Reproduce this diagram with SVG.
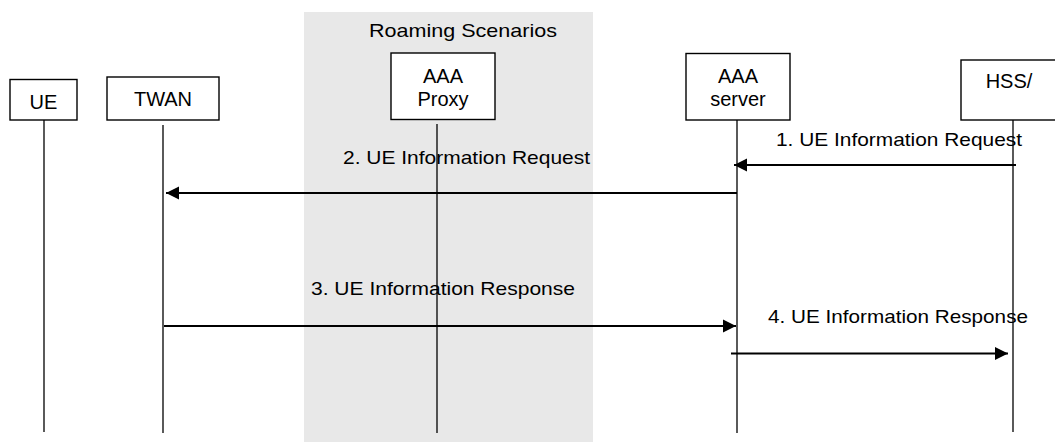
<svg xmlns="http://www.w3.org/2000/svg" width="1055" height="442" viewBox="0 0 1055 442">
<style>
.box{fill:#fff;stroke:#000;stroke-width:1.4}
.life{stroke:#000;stroke-width:1.3;fill:none}
.msg{stroke:#000;stroke-width:2;fill:none}
.lbl{font-family:"Liberation Sans",Arial,sans-serif;font-size:20px;fill:#000;text-anchor:middle}
.mt{font-family:"Liberation Sans",Arial,sans-serif;font-size:19px;fill:#000}
</style>
<defs>
<marker id="ah" markerUnits="userSpaceOnUse" markerWidth="14" markerHeight="14" viewBox="0 0 14 14" refX="13" refY="7" orient="auto">
<path d="M0,0.5 L13,7 L0,13.5 Z" fill="#000"/>
</marker>
</defs>
<rect id="roaming" x="304" y="12" width="289" height="430" fill="#e8e8e8"/>
<text class="mt" x="369" y="37" textLength="188" lengthAdjust="spacingAndGlyphs">Roaming  Scenarios</text>
<g id="lifelines">
<line class="life" x1="44" y1="120" x2="44" y2="432"/>
<line class="life" x1="163" y1="125" x2="163" y2="433"/>
<line class="life" x1="437" y1="124" x2="437" y2="433"/>
<line class="life" x1="737" y1="120" x2="737" y2="433"/>
<line class="life" x1="1013" y1="118" x2="1013" y2="432"/>
</g>
<g id="UE">
<rect class="box" x="10" y="79.5" width="67" height="40.5"/>
<text class="lbl" x="43.5" y="109">UE</text>
</g>
<g id="TWAN">
<rect class="box" x="107" y="77" width="112" height="43"/>
<text class="lbl" x="163" y="106">TWAN</text>
</g>
<g id="AAAProxy">
<rect class="box" x="391" y="53" width="104" height="66.5"/>
<text class="lbl" x="443" y="82.5">AAA</text>
<text class="lbl" x="443" y="106">Proxy</text>
</g>
<g id="AAAServer">
<rect class="box" x="686" y="53.5" width="104" height="66.5"/>
<text class="lbl" x="738" y="82.5">AAA</text>
<text class="lbl" x="738" y="106">server</text>
</g>
<g id="HSS">
<rect class="box" x="961" y="60" width="110" height="60"/>
<text class="lbl" x="1009" y="88">HSS/</text>
</g>
<g id="connectors">
<line class="msg" x1="1016" y1="165" x2="734" y2="165" marker-end="url(#ah)"/>
<line class="msg" x1="737" y1="193" x2="166" y2="193" marker-end="url(#ah)"/>
<line class="msg" x1="164" y1="326" x2="736" y2="326" marker-end="url(#ah)"/>
<line class="msg" x1="731" y1="353.5" x2="1008" y2="353.5" marker-end="url(#ah)"/>
<text class="mt" x="776" y="146" textLength="246" lengthAdjust="spacingAndGlyphs">1. UE Information Request</text>
<text class="mt" x="343" y="164" textLength="247" lengthAdjust="spacingAndGlyphs">2. UE Information Request</text>
<text class="mt" x="311" y="295" textLength="264" lengthAdjust="spacingAndGlyphs">3. UE Information Response</text>
<text class="mt" x="768" y="323" textLength="260" lengthAdjust="spacingAndGlyphs">4. UE Information Response</text>
</g>
</svg>
